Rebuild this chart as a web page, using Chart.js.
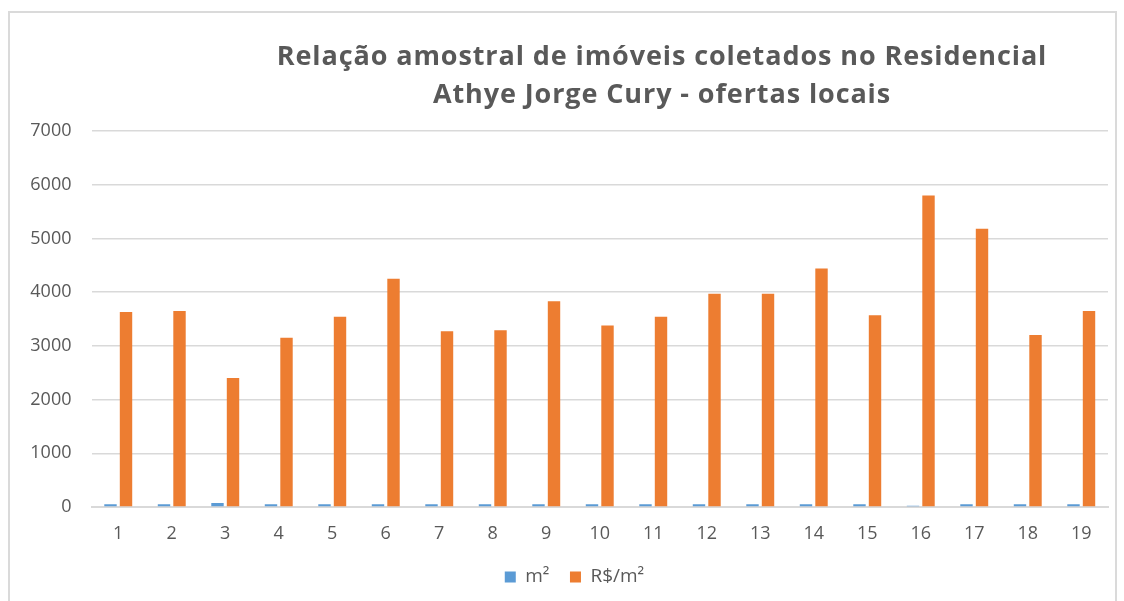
<!DOCTYPE html>
<html>
<head>
<meta charset="utf-8">
<script src="https://cdn.jsdelivr.net/npm/chart.js@4/dist/chart.umd.min.js"></script>
<style>
  html, body { margin: 0; padding: 0; background: #ffffff; }
  #wrap { position: relative; width: 1124px; height: 601px; overflow: hidden; background: #ffffff; }
  #frame { position: absolute; left: 8px; top: 11px; width: 1109px; height: 620px; border: 2px solid #dadada; box-sizing: border-box; }
  #title { position: absolute; left: 162px; width: 1000px; top: 36px; text-align: center;
           font-family: 'Open Sans', sans-serif; font-weight: bold; font-size: 27px; letter-spacing: 0.9px;
           line-height: 38px; color: #595959; }
  canvas { position: absolute; left: 0; top: 0; }
</style>
</head>
<body>
<div id="wrap">
  <div id="frame"></div>
  <canvas id="c" width="1124" height="601"></canvas>
  <div id="title">Relação amostral de imóveis coletados no Residencial<br>Athye Jorge Cury - ofertas locais</div>
</div>
<script>
const categories = ['1','2','3','4','5','6','7','8','9','10','11','12','13','14','15','16','17','18','19'];
const seriesNames = ['m²', 'R$/m²'];
const areaM2 = [50, 50, 75, 50, 50, 50, 50, 50, 50, 50, 50, 50, 50, 50, 50, 25, 50, 50, 50];
const precoM2 = [3630, 3650, 2400, 3150, 3540, 4250, 3270, 3290, 3830, 3380, 3540, 3970, 3970, 4440, 3570, 5800, 5180, 3200, 3650];
const yTickMin = 0;
const yTickMax = 7000;
const yTickStep = 1000;

const textColor = '#595959';
const gridColor = '#d9d9d9';
const tickFont = { family: 'Open Sans', size: 18 };

// widest y tick label, so the right-aligned labels end 20px left of the plot
const mctx = document.createElement('canvas').getContext('2d');
mctx.font = tickFont.size + 'px "' + tickFont.family + '"';
const widestY = mctx.measureText(String(yTickMax)).width;

new Chart(document.getElementById('c'), {
  type: 'bar',
  data: {
    labels: categories,
    datasets: [
      { label: seriesNames[0], data: areaM2, backgroundColor: '#5B9BD5', barPercentage: 0.8, categoryPercentage: 0.58 },
      { label: seriesNames[1], data: precoM2, backgroundColor: '#ED7D31', barPercentage: 0.8, categoryPercentage: 0.58 }
    ]
  },
  options: {
    responsive: false,
    animation: false,
    layout: { padding: { top: 131, left: 41, right: 16, bottom: 4.5 } },
    plugins: {
      title: { display: false },
      tooltip: { enabled: false },
      legend: {
        position: 'bottom',
        align: 'center',
        labels: {
          boxWidth: 11, boxHeight: 11, padding: 20.5,
          color: textColor,
          font: { family: 'Open Sans', size: 19 }
        }
      }
    },
    scales: {
      x: {
        afterFit: (s) => { s.height = 40; },
        grid: { display: false, drawTicks: false },
        border: { display: true, color: gridColor, width: 2 },
        ticks: { color: textColor, padding: 15.7, font: tickFont }
      },
      y: {
        min: yTickMin, max: yTickMax,
        afterFit: (s) => { s.width = 50.5; },
        grid: { color: gridColor, lineWidth: 1.5, drawTicks: false },
        border: { display: false },
        ticks: { stepSize: yTickStep, color: textColor, mirror: true, crossAlign: 'far',
                 padding: -20 - widestY, font: tickFont,
                 callback: (v) => String(v) }
      }
    }
  }
});
</script>
</body>
</html>
